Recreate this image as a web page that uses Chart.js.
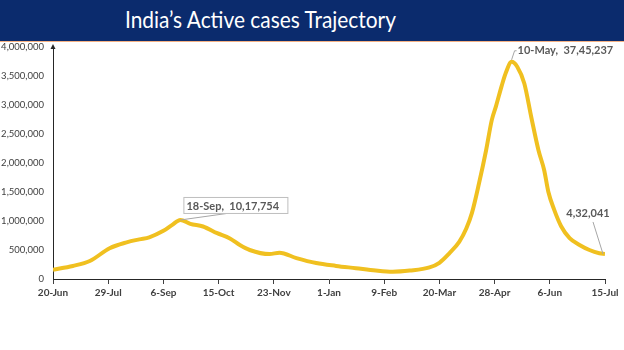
<!DOCTYPE html>
<html>
<head>
<meta charset="utf-8">
<script src="https://cdn.jsdelivr.net/npm/chart.js@4"></script>
<style>
  html, body { margin: 0; padding: 0; background: #fff; }
  #wrap { position: relative; width: 624px; height: 350px; overflow: hidden; }
  #band { position: absolute; left: 0; top: 0; width: 624px; height: 41px; background: #0b2b6d; border-bottom: 1px solid #f4b183; }
  #title { position: absolute; left: 125px; top: 4px; color: #fff; font-family: Lato, sans-serif; font-size: 24px; white-space: nowrap; transform: scaleX(0.87); transform-origin: left top; }
  canvas { position: absolute; left: 0; top: 0; }
</style>
</head>
<body>
<div id="wrap">
  <div id="band"><div id="title">India’s Active cases Trajectory</div></div>
  <canvas id="activeChart" width="624" height="350"></canvas>
</div>
<script>
// Daten
const startDate = '2020-06-20';
const dates = ['2020-06-20', '2020-07-04', '2020-07-16', '2020-07-30', '2020-08-11', '2020-08-20', '2020-08-27',
    '2020-09-06', '2020-09-12', '2020-09-18', '2020-09-25', '2020-10-04', '2020-10-14', '2020-10-23', '2020-10-30',
    '2020-11-06', '2020-11-20', '2020-11-27', '2020-12-09', '2020-12-23', '2021-01-06', '2021-01-20', '2021-02-03',
    '2021-02-15', '2021-02-27', '2021-03-13', '2021-03-20', '2021-03-27', '2021-04-03', '2021-04-08', '2021-04-12',
    '2021-04-17', '2021-04-22', '2021-04-26', '2021-04-29', '2021-05-03', '2021-05-06', '2021-05-10', '2021-05-14',
    '2021-05-19', '2021-05-24', '2021-05-29', '2021-06-02', '2021-06-05', '2021-06-09', '2021-06-14', '2021-06-20',
    '2021-06-27', '2021-07-04', '2021-07-11', '2021-07-15'];
const activeCases = [160000, 225000, 310000, 530000, 632000, 684000, 719000,
    830000, 930000, 1017754, 950000, 905000, 790000, 700000, 586000,
    500000, 430000, 454000, 360000, 275000, 226000, 186000, 145000,
    125000, 145000, 200000, 280000, 443000, 640000, 870000, 1140000,
    1650000, 2220000, 2740000, 2980000, 3330000, 3560000, 3745237, 3660000,
    3370000, 2780000, 2220000, 1880000, 1500000, 1200000, 910000, 705000,
    586000, 500000, 445000, 432041];
const tickLabels = ['20-Jun', '29-Jul', '6-Sep', '15-Oct', '23-Nov', '1-Jan', '9-Feb', '20-Mar', '28-Apr', '6-Jun', '15-Jul'];
const yTicks = [0, 500000, 1000000, 1500000, 2000000, 2500000, 3000000, 3500000, 4000000];
const callouts = [
    { index: 9, text: '18-Sep,  10,17,754' },
    { index: 37, text: '10-May,  37,45,237' },
    { index: 50, text: '4,32,041' }
];

const dayMs = 86400000;
const dayOffset = d => Math.round((new Date(d) - new Date(startDate)) / dayMs);
const points = dates.map((d, i) => ({ x: dayOffset(d), y: activeCases[i] }));

// Beschriftungen mit Hinweislinien
const calloutPlugin = {
    id: 'callouts',
    afterDatasetsDraw(chart) {
        const ctx = chart.ctx;
        const meta = chart.getDatasetMeta(0);
        const area = chart.chartArea;
        ctx.save();
        // kleiner Pfeil oben an der Y-Achse
        ctx.fillStyle = '#262626';
        ctx.beginPath();
        ctx.moveTo(area.left - 2.5, area.top + 2);
        ctx.lineTo(area.left + 2.5, area.top + 2);
        ctx.lineTo(area.left, area.top - 3);
        ctx.closePath();
        ctx.fill();

        ctx.font = 'bold 11px Lato, sans-serif';
        ctx.textBaseline = 'middle';
        ctx.strokeStyle = '#a6a6a6';
        ctx.lineWidth = 1;

        // 18-Sep
        let p = meta.data[callouts[0].index];
        ctx.beginPath();
        ctx.moveTo(p.x, p.y);
        ctx.lineTo(p.x + 50, p.y - 7);
        ctx.stroke();
        ctx.strokeStyle = '#bfbfbf';
        ctx.fillStyle = '#fff';
        ctx.fillRect(p.x + 3.5, p.y - 22.5, 104, 16);
        ctx.strokeRect(p.x + 3.5, p.y - 22.5, 104, 16);
        ctx.fillStyle = '#595959';
        ctx.textAlign = 'left';
        ctx.fillText(callouts[0].text, p.x + 6, p.y - 14);

        // 10-May
        ctx.strokeStyle = '#a6a6a6';
        p = meta.data[callouts[1].index];
        ctx.beginPath();
        ctx.moveTo(p.x, p.y - 2);
        ctx.lineTo(p.x + 3, p.y - 11);
        ctx.lineTo(p.x + 5, p.y - 11);
        ctx.stroke();
        ctx.fillText(callouts[1].text, p.x + 6, p.y - 11);

        // 15-Jul
        p = meta.data[callouts[2].index];
        ctx.beginPath();
        ctx.moveTo(p.x - 2, p.y);
        ctx.lineTo(p.x - 12, p.y - 32);
        ctx.stroke();
        ctx.textAlign = 'center';
        ctx.fillText(callouts[2].text, p.x - 17, p.y - 40);
        ctx.restore();
    }
};

const ctx = document.getElementById('activeChart').getContext('2d');
new Chart(ctx, {
    type: 'line',
    data: {
        datasets: [{
            label: 'Active cases',
            data: points,
            borderColor: '#f0c020',
            borderWidth: 4,
            pointRadius: 0,
            fill: false,
            cubicInterpolationMode: 'monotone'
        }]
    },
    options: {
        responsive: false,
        animation: false,
        layout: { padding: { left: 0, right: 19, top: 47, bottom: 46 } },
        plugins: { legend: { display: false }, tooltip: { enabled: false } },
        scales: {
            x: {
                type: 'linear',
                min: 0,
                max: 390,
                afterFit: s => { s.height = 25; },
                afterBuildTicks: s => { s.ticks = tickLabels.map((_, i) => ({ value: i * 39 })); },
                grid: { display: true, drawOnChartArea: false, drawTicks: true, tickLength: 5, color: '#404040' },
                border: { display: true, color: '#262626', width: 1 },
                ticks: {
                    padding: 3,
                    maxRotation: 0,
                    autoSkip: false,
                    color: '#404040',
                    font: { family: 'Lato, sans-serif', size: 10, weight: 'bold' },
                    callback: (v, i) => tickLabels[i]
                }
            },
            y: {
                min: 0,
                max: 4000000,
                afterFit: s => { s.width = 53; },
                afterBuildTicks: s => { s.ticks = yTicks.map(v => ({ value: v })); },
                grid: { display: false, drawTicks: false },
                border: { display: true, color: '#262626', width: 1 },
                ticks: {
                    padding: 9,
                    color: '#404040',
                    font: { family: 'Lato, sans-serif', size: 9.5 },
                    callback: v => v.toLocaleString('en-US')
                }
            }
        }
    },
    plugins: [calloutPlugin]
});
</script>
</body>
</html>
